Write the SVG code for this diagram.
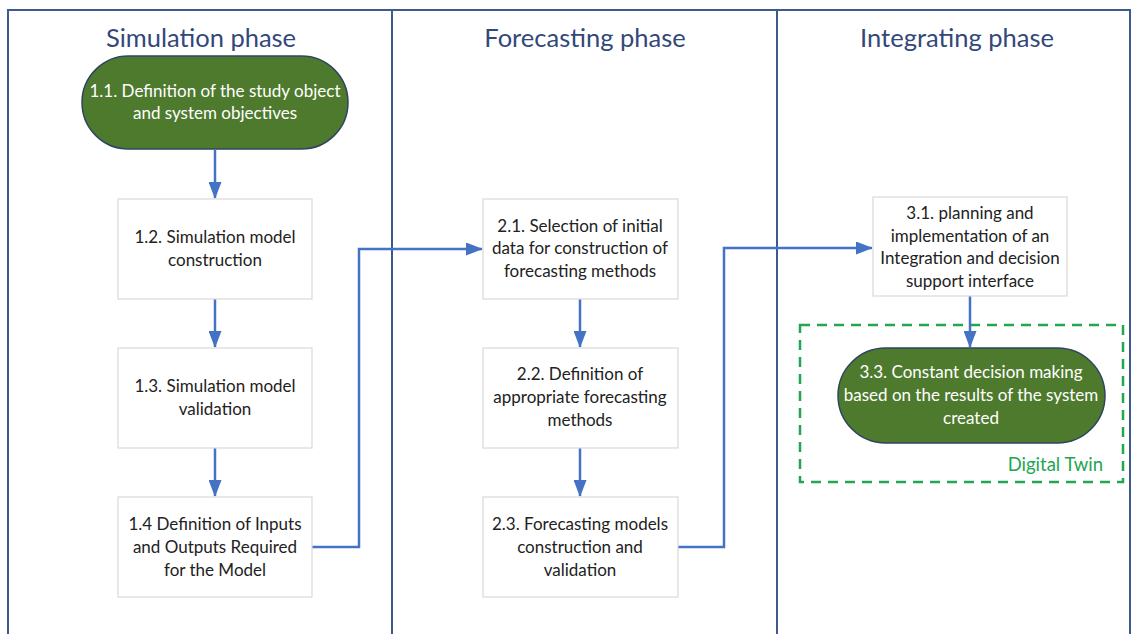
<svg xmlns="http://www.w3.org/2000/svg" width="1136" height="634" viewBox="0 0 1136 634">
<style>
.frame{fill:none;stroke:#3c5a8f;stroke-width:2}
.title{font-family:Lato,"Liberation Sans",sans-serif;font-size:25.5px;fill:#33487a;text-anchor:middle}
.box{fill:#fff;stroke:#d9d9d9;stroke-width:1.2}
.term{fill:#4e7a2e;stroke:#2f4560;stroke-width:1.5}
.t{font-family:Lato,"Liberation Sans",sans-serif;font-size:17px;fill:#222;text-anchor:middle}
.tw{font-family:Lato,"Liberation Sans",sans-serif;font-size:17px;fill:#fff;text-anchor:middle}
.conn{fill:none;stroke:#4472c4;stroke-width:2.5}
.dt{fill:none;stroke:#22a652;stroke-width:2.5;stroke-dasharray:10 7}
</style>
<defs>
<marker id="ah" markerWidth="17" markerHeight="13" refX="16" refY="6.5" orient="auto" markerUnits="userSpaceOnUse" viewBox="0 0 17 13">
<path d="M0,0 L17,6.5 L0,13 z" fill="#4472c4"/>
</marker>
</defs>
<rect width="1136" height="634" fill="#fff"/>
<g id="frame">
<rect class="frame" x="8" y="10" width="1122" height="640"/>
<line class="frame" x1="392" y1="10" x2="392" y2="634"/>
<line class="frame" x1="777" y1="10" x2="777" y2="634"/>
<text class="title" x="201" y="47">Simulation phase</text>
<text class="title" x="585" y="47">Forecasting phase</text>
<text class="title" x="957" y="47">Integrating phase</text>
</g>
<g id="digital-twin">
<rect class="dt" x="800" y="325" width="323" height="157"/>
<text x="1103" y="471" font-family="Lato,'Liberation Sans',sans-serif" font-size="18.5" fill="#22a652" text-anchor="end">Digital Twin</text>
</g>
<g id="connectors">
<line class="conn" x1="215" y1="150" x2="215" y2="198" marker-end="url(#ah)"/>
<line class="conn" x1="215" y1="299" x2="215" y2="347" marker-end="url(#ah)"/>
<line class="conn" x1="215" y1="448" x2="215" y2="496" marker-end="url(#ah)"/>
<polyline class="conn" points="312,547 359,547 359,249 482,249" marker-end="url(#ah)"/>
<line class="conn" x1="580" y1="299" x2="580" y2="347" marker-end="url(#ah)"/>
<line class="conn" x1="580" y1="448" x2="580" y2="496" marker-end="url(#ah)"/>
<polyline class="conn" points="678,547 724,547 724,248 872,248" marker-end="url(#ah)"/>
<line class="conn" x1="970" y1="296" x2="970" y2="347" marker-end="url(#ah)"/>
</g>
<g id="n1_1">
<rect class="term" x="82" y="56" width="266" height="93" rx="46.5"/>
<text class="tw" x="215" y="97">1.1. Definition of the study object</text>
<text class="tw" x="215" y="119">and system objectives</text>
</g>
<g id="n1_2">
<rect class="box" x="118" y="199" width="194" height="100"/>
<text class="t" x="215" y="243">1.2. Simulation model</text>
<text class="t" x="215" y="266">construction</text>
</g>
<g id="n1_3">
<rect class="box" x="118" y="348" width="194" height="100"/>
<text class="t" x="215" y="392">1.3. Simulation model</text>
<text class="t" x="215" y="415">validation</text>
</g>
<g id="n1_4">
<rect class="box" x="118" y="497" width="194" height="100"/>
<text class="t" x="215" y="530">1.4 Definition of Inputs</text>
<text class="t" x="215" y="553">and Outputs Required</text>
<text class="t" x="215" y="576">for the Model</text>
</g>
<g id="n2_1">
<rect class="box" x="483" y="199" width="195" height="100"/>
<text class="t" x="580" y="232">2.1. Selection of initial</text>
<text class="t" x="580" y="254">data for construction of</text>
<text class="t" x="580" y="277">forecasting methods</text>
</g>
<g id="n2_2">
<rect class="box" x="483" y="348" width="195" height="100"/>
<text class="t" x="580" y="380">2.2. Definition of</text>
<text class="t" x="580" y="403">appropriate forecasting</text>
<text class="t" x="580" y="426">methods</text>
</g>
<g id="n2_3">
<rect class="box" x="483" y="497" width="195" height="100"/>
<text class="t" x="580" y="530">2.3. Forecasting models</text>
<text class="t" x="580" y="553">construction and</text>
<text class="t" x="580" y="576">validation</text>
</g>
<g id="n3_1">
<rect class="box" x="873" y="197" width="194" height="99"/>
<text class="t" x="970" y="219">3.1. planning and</text>
<text class="t" x="970" y="242">implementation of an</text>
<text class="t" x="970" y="264">Integration and decision</text>
<text class="t" x="970" y="287">support interface</text>
</g>
<g id="n3_3">
<rect class="term" x="838" y="348" width="267" height="95" rx="47.5"/>
<text class="tw" x="971" y="378">3.3. Constant decision making</text>
<text class="tw" x="971" y="401">based on the results of the system</text>
<text class="tw" x="971" y="424">created</text>
</g>
</svg>
